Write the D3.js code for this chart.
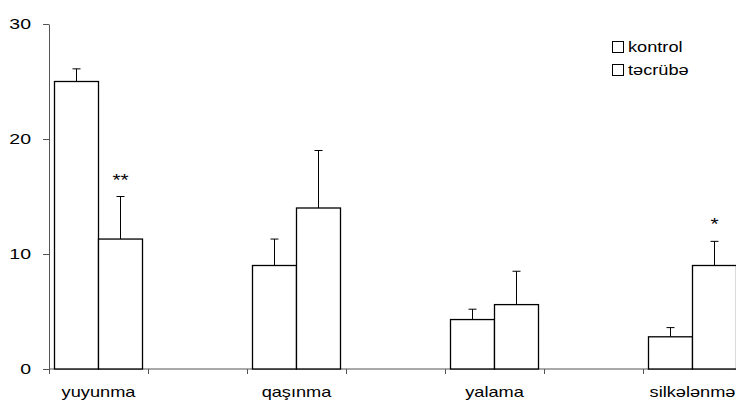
<!DOCTYPE html>
<html>
<head>
<meta charset="utf-8">
<script src="https://cdn.jsdelivr.net/npm/d3@7"></script>
<style>
  html, body { margin: 0; padding: 0; background: #fff; }
  svg { display: block; font-family: "Liberation Sans", Arial, sans-serif; }
</style>
</head>
<body>
<div id="chart"></div>
<script>
// categories (blank slots between groups, like the original spreadsheet chart)
const categories = ['yuyunma', '', 'qaşınma', '', 'yalama', '', 'silkələnmə'];
const seriesNames = ['kontrol', 'təcrübə'];
const kontrol = [25, null, 9, null, 4.3, null, 2.8];
const kontrolErr = [1.1, null, 2.3, null, 0.9, null, 0.8];
const tecrube = [11.3, null, 14, null, 5.6, null, 9];
const tecrubeErr = [3.7, null, 5, null, 2.9, null, 2.1];
const marks = ['', '', '', '', '', '', ''];
const tecrubeMarks = ['**', '', '', '', '', '', '*'];
const yTicks = [0, 10, 20, 30];

const width = 736, height = 400;
const margin = { top: 24, right: -6, bottom: 31, left: 49 };
const stretch = 1.3; // the exported chart's text is wider than it is tall

const svg = d3.select('#chart').append('svg')
  .attr('width', width)
  .attr('height', height);

// place a text at (x, y) with the horizontal stretch
function putText(sel, x, y) {
  sel.attr('x', 0).attr('y', 0)
    .attr('transform', (d, i) => `translate(${x(d, i)},${y(d, i)}) scale(${stretch},1)`);
}

const x0 = d3.scaleBand()
  .domain(d3.range(categories.length))
  .range([margin.left, width - margin.right])
  .paddingInner(0)
  .paddingOuter(0);

const x1 = d3.scaleBand()
  .domain(seriesNames)
  .range([0, x0.bandwidth()])
  .paddingInner(0)
  .paddingOuter(0.125);

const y = d3.scaleLinear()
  .domain([0, 30])
  .range([height - margin.bottom, margin.top]);

// y axis
const yAxis = svg.append('g')
  .attr('transform', `translate(${margin.left},0)`)
  .call(d3.axisLeft(y).tickValues(yTicks).tickSize(6).tickSizeOuter(0).tickFormat(''));
yAxis.select('.domain').attr('stroke', '#555');
yAxis.selectAll('.tick line').attr('stroke', '#555');

svg.append('g').selectAll('text')
  .data(yTicks)
  .join('text')
  .attr('font-size', 15)
  .attr('text-anchor', 'end')
  .text(d => d)
  .call(putText, () => 31, d => y(d) + 5);

// x axis: ticks on the category boundaries
const xAxis = svg.append('g')
  .attr('transform', `translate(0,${y(0)})`);
xAxis.append('line')
  .attr('x1', margin.left).attr('x2', width)
  .attr('stroke', '#555');
xAxis.selectAll('.bound')
  .data(d3.range(categories.length + 1))
  .join('line')
  .attr('x1', i => Math.round(margin.left + i * x0.step()) + 0.5)
  .attr('x2', i => Math.round(margin.left + i * x0.step()) + 0.5)
  .attr('y1', 0).attr('y2', 5)
  .attr('stroke', '#555');
xAxis.selectAll('.lbl')
  .data(categories)
  .join('text')
  .attr('text-anchor', 'middle')
  .attr('font-size', 14)
  .text(d => d)
  .call(putText, (d, i) => x0(i) + x0.bandwidth() / 2, () => 28);

const rows = [
  { name: 'kontrol', vals: kontrol, err: kontrolErr, marks: marks },
  { name: 'təcrübə', vals: tecrube, err: tecrubeErr, marks: tecrubeMarks }
];

rows.forEach(s => {
  const items = s.vals.map((v, i) => ({ i, v, e: s.err[i], m: s.marks[i] })).filter(d => d.v != null);
  const g = svg.append('g');
  const cx = d => x0(d.i) + x1(s.name) + x1.bandwidth() / 2;

  g.selectAll('.err')
    .data(items)
    .join('line')
    .attr('x1', cx).attr('x2', cx)
    .attr('y1', d => y(d.v)).attr('y2', d => y(d.v + d.e))
    .attr('stroke', '#000');
  g.selectAll('.cap')
    .data(items)
    .join('line')
    .attr('x1', d => cx(d) - 4).attr('x2', d => cx(d) + 4)
    .attr('y1', d => y(d.v + d.e)).attr('y2', d => y(d.v + d.e))
    .attr('stroke', '#000');

  g.selectAll('rect')
    .data(items)
    .join('rect')
    .attr('x', d => x0(d.i) + x1(s.name))
    .attr('y', d => y(d.v))
    .attr('width', x1.bandwidth())
    .attr('height', d => y(0) - y(d.v))
    .attr('fill', '#fff')
    .attr('stroke', '#000')
    .attr('stroke-width', 1.3);

  g.selectAll('.mark')
    .data(items.filter(d => d.m))
    .join('text')
    .attr('text-anchor', 'middle')
    .attr('font-size', 16)
    .text(d => d.m)
    .call(putText, cx, d => y(d.v + d.e) - 11);
});

// legend
const legend = svg.append('g').attr('transform', 'translate(612,40)');
legend.selectAll('g')
  .data(seriesNames)
  .join('g')
  .attr('transform', (d, i) => `translate(0,${i * 23})`)
  .each(function (d) {
    const g = d3.select(this);
    g.append('rect').attr('x', 0.5).attr('y', 1.5).attr('width', 11).attr('height', 11)
      .attr('fill', '#fff').attr('stroke', '#000');
    g.append('text').attr('font-size', 14).text(d)
      .call(putText, () => 16, () => 12);
  });
</script>
</body>
</html>
